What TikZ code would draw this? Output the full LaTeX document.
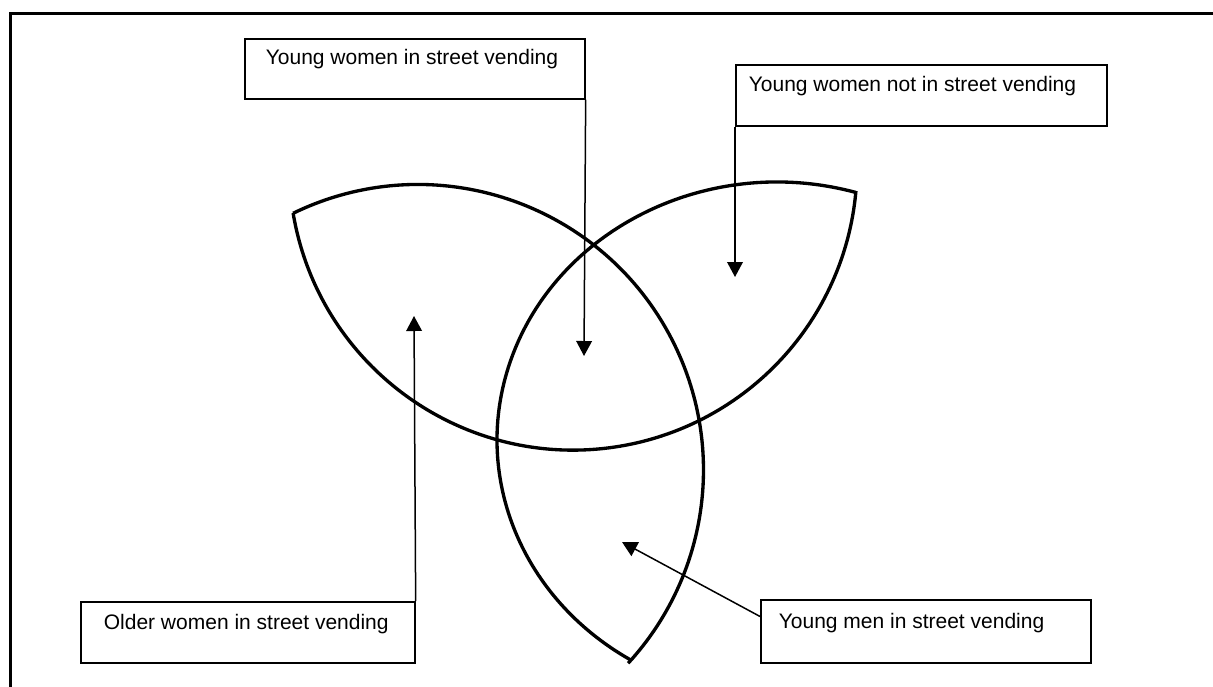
\documentclass[tikz,border=0pt]{standalone}
\usepackage{fontspec}
\setmainfont{Liberation Sans}
\usetikzlibrary{arrows.meta,calc}
\begin{document}
\begin{tikzpicture}[x=0.6pt,y=-0.6pt,
  vbox/.style={draw,line width=1pt,anchor=north west,inner sep=0pt,
    font=\fontsize{12.6pt}{15pt}\selectfont},
  arr/.style={-{Triangle[length=9pt,width=9.4pt]},line width=0.9pt},
  lens/.style={line width=2pt},
  frame/.style={line width=1.8pt}]
\useasboundingbox (0,0) rectangle (1213,686);
% frame (left and top edges)
\coordinate (fbl) at (10.5,690);
\coordinate (ftl) at (10.5,13.5);
\coordinate (ftr) at (1216,13.5);
\draw[frame] (fbl) -- (ftl) -- (ftr);
% three arcs
\draw[lens] (418,470) ++(-115.94:285.5) arc[start angle=-115.94,end angle=42.6,radius=285.5];
\draw[lens] (573.1,166.2) ++(170.5:283.9) arc[start angle=170.5,end angle=5,radius=283.9];
\draw[lens] (777,440) ++({280*cos(-73.7)},{258*sin(-73.7)}) arc[start angle=-73.7,end angle=-238.4,x radius=280,y radius=258];
% boxes
\node[vbox,text height=15.6pt,text depth=20.4pt] (b1) at (244,38)
  {\makebox[204pt][l]{\hspace{12.6pt}Young women in street vending}};
\node[vbox,text height=16.2pt,text depth=20.4pt] (b2) at (735,64)
  {\makebox[222.6pt][l]{\hspace{7.8pt}Young women not in street vending}};
\node[vbox,text height=16.8pt,text depth=19.8pt] (b3) at (80,601)
  {\makebox[200.4pt][l]{\hspace{13.8pt}Older women in street vending}};
\node[vbox,text height=17.4pt,text depth=20.4pt] (b4) at (760,599)
  {\makebox[198pt][l]{\hspace{10.8pt}Young men in street vending}};
% arrow tips
\coordinate (t1) at (584,356);
\coordinate (t2) at (735,277);
\coordinate (t3) at (414,316);
\coordinate (t4) at (622,542);
\draw[arr] (b1.south east) -- (t1);
\draw[arr] (b2.south west) -- (t2);
\draw[arr] (b3.north east) -- (t3);
\draw[arr] ($(b4.north west)!0.27!(b4.south west)$) -- (t4);
\end{tikzpicture}
\end{document}
